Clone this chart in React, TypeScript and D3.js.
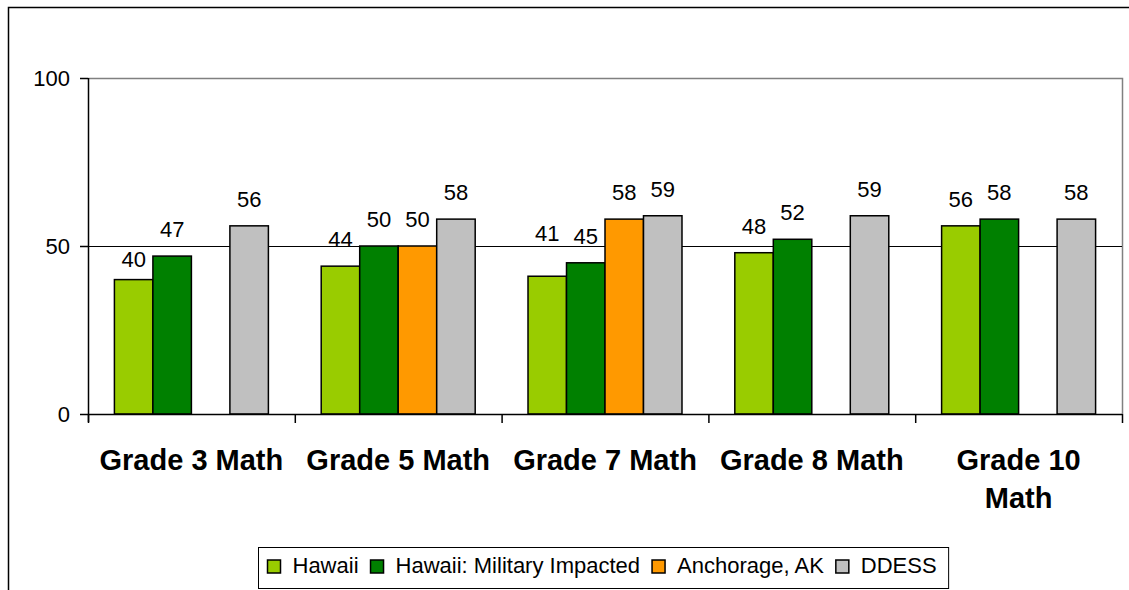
import React, { useRef, useEffect } from "react";
import * as d3 from "d3";

const categories = [
  ["Grade 3 Math"],
  ["Grade 5 Math"],
  ["Grade 7 Math"],
  ["Grade 8 Math"],
  ["Grade 10", "Math"],
];
const seriesNames = ["Hawaii", "Hawaii: Military Impacted", "Anchorage, AK", "DDESS"];
const hawaii = [40, 44, 41, 48, 56];
const hawaiiMilitary = [47, 50, 45, 52, 58];
const anchorage = [null, 50, 58, null, null];
const ddess = [56, 58, 59, 59, 58];
const yTicks = [0, 50, 100];

const colors = ["#99CC00", "#008000", "#FF9900", "#C0C0C0"];
// a couple of labels sit off the default spot in the original
const labelNudge: Record<string, number> = { "0-0": 6, "2-0": -16 };

const FONT = "'Liberation Sans', Arial, sans-serif";

function App() {
  const svgRef = useRef<SVGSVGElement | null>(null);

  useEffect(() => {
    const svg = d3.select(svgRef.current);
    svg.selectAll("*").remove();

    const W = 1129,
      H = 590;
    const plot = { left: 88, right: 1122, top: 78, bottom: 414 };
    const allSeries = [hawaii, hawaiiMilitary, anchorage, ddess];
    const catKeys = categories.map((c) => c.join(" "));

    const x0 = d3.scaleBand().domain(catKeys).range([plot.left, plot.right]);
    const x1 = d3
      .scaleBand()
      .domain(seriesNames)
      .range([0, x0.bandwidth()])
      .paddingInner(0)
      .paddingOuter(0.686);
    const y = d3.scaleLinear().domain([0, 100]).range([plot.bottom, plot.top]);

    // outer chart frame
    svg
      .append("path")
      .attr("d", `M8.5,${H} L8.5,7.5 L${W},7.5`)
      .attr("fill", "none")
      .attr("stroke", "#000")
      .attr("stroke-width", 1.5);

    // plot area border (top / right)
    svg
      .append("path")
      .attr("d", `M${plot.left},${plot.top + 0.5} L${plot.right + 0.5},${plot.top + 0.5} L${plot.right + 0.5},${plot.bottom}`)
      .attr("fill", "none")
      .attr("stroke", "#808080")
      .attr("stroke-width", 1.5);

    // gridline at 50
    svg
      .append("line")
      .attr("x1", plot.left)
      .attr("x2", plot.right)
      .attr("y1", Math.round(y(50)) + 0.5)
      .attr("y2", Math.round(y(50)) + 0.5)
      .attr("stroke", "#000")
      .attr("stroke-width", 1);

    // bars
    const bars = svg.append("g");
    allSeries.forEach((vals, si) => {
      vals.forEach((v, ci) => {
        if (v == null) return;
        const bx = (x0(catKeys[ci]) as number) + (x1(seriesNames[si]) as number);
        bars
          .append("rect")
          .attr("x", bx)
          .attr("y", y(v))
          .attr("width", x1.bandwidth())
          .attr("height", y(0) - y(v))
          .attr("fill", colors[si])
          .attr("stroke", "#000")
          .attr("stroke-width", 1.5);
        bars
          .append("text")
          .attr("x", bx + x1.bandwidth() / 2)
          .attr("y", y(v) - 19 + (labelNudge[ci + "-" + si] || 0))
          .attr("text-anchor", "middle")
          .attr("font-family", FONT)
          .attr("font-size", 22)
          .attr("fill", "#000")
          .text(v);
      });
    });

    // y axis
    svg
      .append("line")
      .attr("x1", plot.left + 0.5)
      .attr("x2", plot.left + 0.5)
      .attr("y1", plot.top)
      .attr("y2", plot.bottom + 8)
      .attr("stroke", "#000")
      .attr("stroke-width", 1.5);
    yTicks.forEach((t) => {
      svg
        .append("line")
        .attr("x1", plot.left - 8)
        .attr("x2", plot.left)
        .attr("y1", y(t) + 0.5)
        .attr("y2", y(t) + 0.5)
        .attr("stroke", "#000")
        .attr("stroke-width", 1.5);
      svg
        .append("text")
        .attr("x", 70)
        .attr("y", y(t))
        .attr("dy", "0.36em")
        .attr("text-anchor", "end")
        .attr("font-family", FONT)
        .attr("font-size", 22)
        .text(t);
    });

    // x axis
    svg
      .append("line")
      .attr("x1", plot.left)
      .attr("x2", plot.right)
      .attr("y1", plot.bottom + 0.5)
      .attr("y2", plot.bottom + 0.5)
      .attr("stroke", "#000")
      .attr("stroke-width", 1.5);
    const boundaries = catKeys.map((k) => x0(k) as number).concat([plot.right]);
    boundaries.forEach((bx) => {
      svg
        .append("line")
        .attr("x1", bx + 0.5)
        .attr("x2", bx + 0.5)
        .attr("y1", plot.bottom)
        .attr("y2", plot.bottom + 9)
        .attr("stroke", "#000")
        .attr("stroke-width", 1.5);
    });
    categories.forEach((lines, ci) => {
      const cx = (x0(catKeys[ci]) as number) + x0.bandwidth() / 2;
      const t = svg
        .append("text")
        .attr("text-anchor", "middle")
        .attr("font-family", FONT)
        .attr("font-size", 29)
        .attr("font-weight", "bold");
      lines.forEach((ln, li) => {
        t.append("tspan")
          .attr("x", cx)
          .attr("y", 470 + li * 38)
          .text(ln);
      });
    });

    // legend
    const lg = svg.append("g");
    const box = lg
      .append("rect")
      .attr("y", 547.5)
      .attr("height", 41)
      .attr("fill", "#fff")
      .attr("stroke", "#000")
      .attr("stroke-width", 1);
    let cur = 9;
    const items = lg.append("g");
    seriesNames.forEach((name, i) => {
      items
        .append("rect")
        .attr("x", cur)
        .attr("y", 560)
        .attr("width", 13)
        .attr("height", 13)
        .attr("fill", colors[i])
        .attr("stroke", "#000")
        .attr("stroke-width", 1.5);
      const txt = items
        .append("text")
        .attr("x", cur + 25)
        .attr("y", 573)
        .attr("font-family", FONT)
        .attr("font-size", 22)
        .text(name);
      const len = (txt.node() as SVGTextElement).getComputedTextLength();
      cur = cur + 25 + len + 12;
    });
    const boxW = cur;
    const boxX = Math.round(603 - boxW / 2) + 0.5;
    box.attr("x", boxX).attr("width", boxW);
    items.attr("transform", `translate(${boxX},0)`);
  }, []);

  return (
    <svg
      ref={svgRef}
      width={1129}
      height={590}
      style={{ position: "absolute", left: 0, top: 0, background: "#fff" }}
    />
  );
}

export default App;
